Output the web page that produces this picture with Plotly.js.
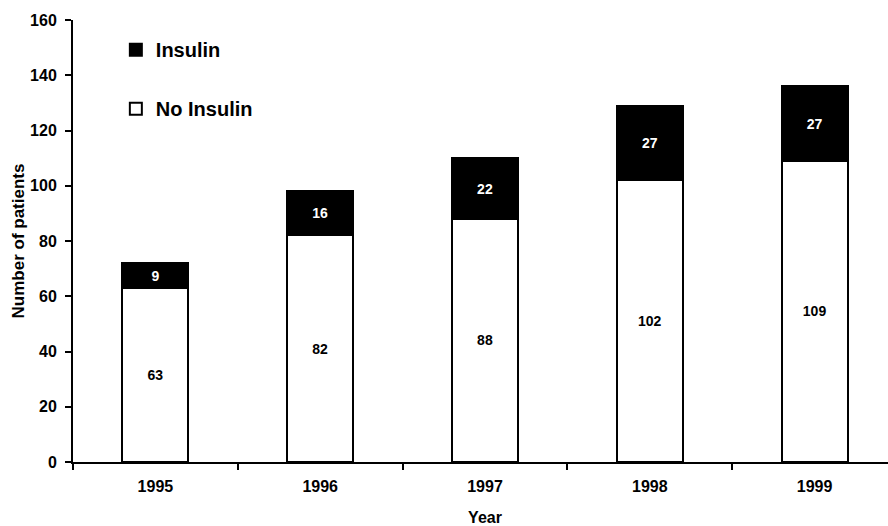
<!DOCTYPE html>
<html>
<head>
<meta charset="utf-8">
<script src="https://cdn.plot.ly/plotly-3.0.1.min.js"></script>
<style>
html, body { margin: 0; padding: 0; overflow: hidden; background: #fff; width: 888px; height: 526px; }
#chart { width: 897px; height: 526px; }
</style>
</head>
<body>
<div id="chart"></div>
<script>
const years = ['1995', '1996', '1997', '1998', '1999'];
const noInsulin = [63, 82, 88, 102, 109];
const insulin = [9, 16, 22, 27, 27];
const yTicks = [0, 20, 40, 60, 80, 100, 120, 140, 160];

const FONT = 'Liberation Sans, Arial, Helvetica, sans-serif';

const traces = [
  {
    type: 'bar',
    name: 'No Insulin',
    x: years,
    y: noInsulin,
    text: noInsulin.map(String),
    textposition: 'inside',
    insidetextanchor: 'middle',
    textangle: 0,
    textfont: { family: FONT, size: 14, color: '#000', weight: 700 },
    marker: { color: '#ffffff', line: { color: '#000', width: 2 } },
    width: 0.4,
    legendgroup: 'b',
    legendrank: 2,
    hoverinfo: 'x+y+name'
  },
  {
    type: 'bar',
    name: 'Insulin',
    x: years,
    y: insulin,
    text: insulin.map(String),
    textposition: 'inside',
    insidetextanchor: 'middle',
    textangle: 0,
    textfont: { family: FONT, size: 14, color: '#fff', weight: 700 },
    marker: { color: '#000000', line: { color: '#000', width: 2 } },
    width: 0.4,
    legendgroup: 'a',
    legendrank: 1,
    hoverinfo: 'x+y+name'
  }
];

const layout = {
  width: 897,
  height: 526,
  margin: { l: 73, r: 0, t: 20, b: 64, pad: 0 },
  paper_bgcolor: '#ffffff',
  plot_bgcolor: '#ffffff',
  barmode: 'stack',
  font: { family: FONT, size: 16, color: '#000', weight: 700 },
  showlegend: true,
  legend: {
    x: 0.052, y: 0.977, xanchor: 'left', yanchor: 'top',
    traceorder: 'grouped',
    tracegroupgap: 30,
    bgcolor: 'rgba(0,0,0,0)',
    font: { family: FONT, size: 20, color: '#000', weight: 700 }
  },
  xaxis: {
    type: 'category',
    range: [-0.5, 4.5],
    showline: true, linecolor: '#000', linewidth: 2,
    ticks: 'outside', tickson: 'boundaries', ticklen: 6, tickwidth: 2, tickcolor: '#000',
    ticklabelstandoff: 9,
    showgrid: false, zeroline: false,
    tickfont: { family: FONT, size: 16, color: '#000', weight: 700 },
    title: { text: 'Year', font: { family: FONT, size: 16, color: '#000', weight: 700 }, standoff: 20 },
    fixedrange: true
  },
  yaxis: {
    range: [0, 160],
    tickvals: yTicks,
    ticktext: yTicks.map(String),
    showline: true, linecolor: '#000', linewidth: 2,
    ticks: 'outside', ticklen: 6, tickwidth: 2, tickcolor: '#000',
    ticklabelstandoff: 5,
    showgrid: false, zeroline: false,
    tickfont: { family: FONT, size: 16, color: '#000', weight: 700 },
    title: { text: 'Number of patients', font: { family: FONT, size: 17, color: '#000', weight: 700 }, standoff: 1 },
    fixedrange: true
  }
};

Plotly.newPlot('chart', traces, layout, { displayModeBar: false });
</script>
</body>
</html>
